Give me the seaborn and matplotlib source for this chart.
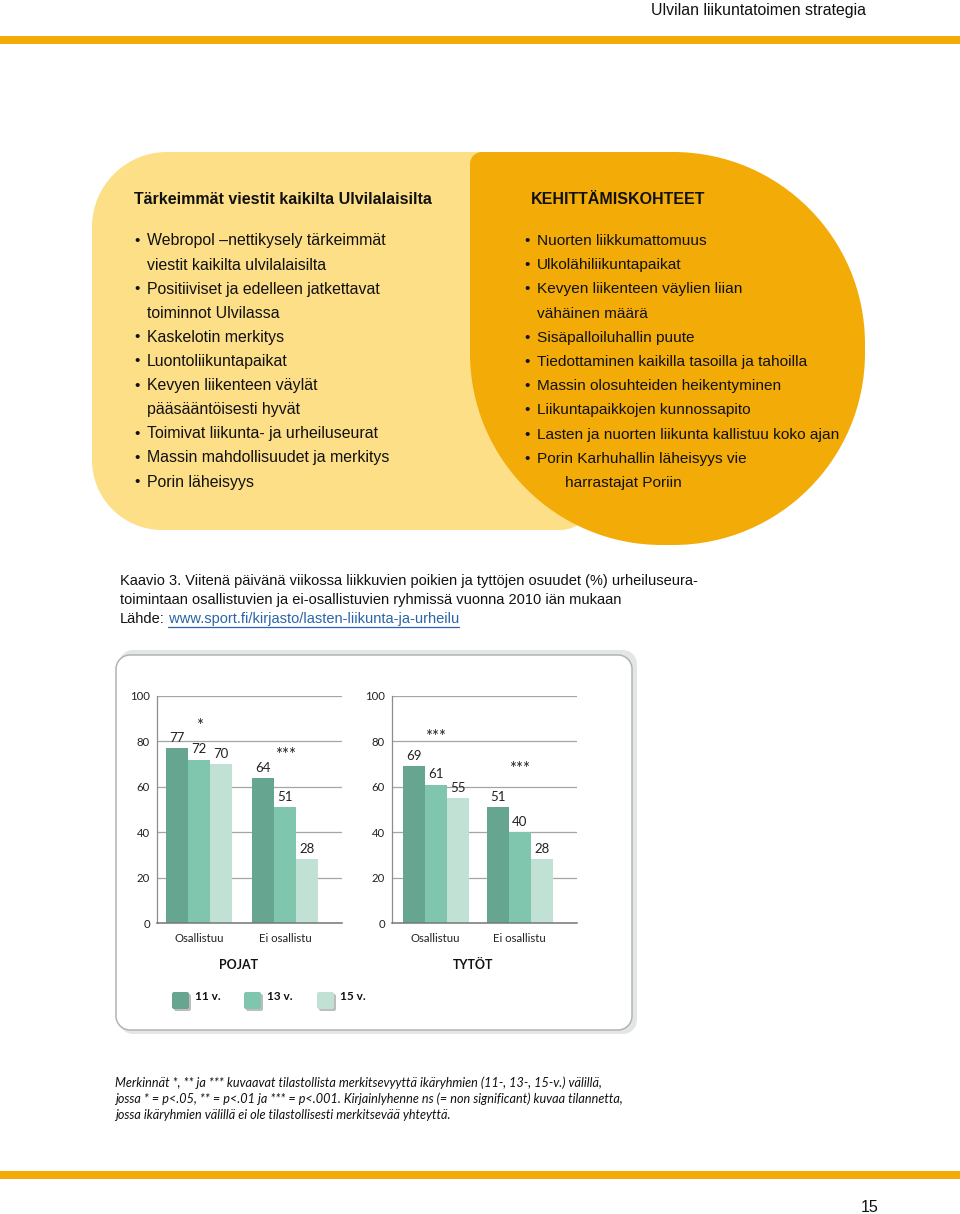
import numpy as np
import pandas as pd
import matplotlib
matplotlib.use("Agg")
import matplotlib.pyplot as plt
from matplotlib.patches import PathPatch, Rectangle
from matplotlib.path import Path
import seaborn as sns

sns.set_theme(style="white")
plt.rcParams["font.family"] = ["Liberation Sans", "DejaVu Sans"]

W, H = 960, 1214

# chart data
GROUPS = ["Osallistuu", "Ei osallistu"]
AGES = ["11 v.", "13 v.", "15 v."]
POJAT = [77, 72, 70, 64, 51, 28]   # Osallistuu 11/13/15, Ei osallistu 11/13/15
TYTOT = [69, 61, 55, 51, 40, 28]
STARS_POJAT = ["*", "***"]
STARS_TYTOT = ["***", "***"]
AGE_COLORS = ["#66A690", "#80C5AD", "#C0E1D4"]

LEFT_TITLE = "Tärkeimmät viestit kaikilta Ulvilalaisilta"
LEFT_ITEMS = [
    (True, "Webropol –nettikysely tärkeimmät"),
    (False, "viestit kaikilta ulvilalaisilta"),
    (True, "Positiiviset ja edelleen jatkettavat"),
    (False, "toiminnot Ulvilassa"),
    (True, "Kaskelotin merkitys"),
    (True, "Luontoliikuntapaikat"),
    (True, "Kevyen liikenteen väylät"),
    (False, "pääsääntöisesti hyvät"),
    (True, "Toimivat liikunta- ja urheiluseurat"),
    (True, "Massin mahdollisuudet ja merkitys"),
    (True, "Porin läheisyys"),
]
RIGHT_TITLE = "KEHITTÄMISKOHTEET"
RIGHT_ITEMS = [
    (True, "Nuorten liikkumattomuus"),
    (True, "Ulkolähiliikuntapaikat"),
    (True, "Kevyen liikenteen väylien liian"),
    (False, "vähäinen määrä"),
    (True, "Sisäpalloiluhallin puute"),
    (True, "Tiedottaminen kaikilla tasoilla ja tahoilla"),
    (True, "Massin olosuhteiden heikentyminen"),
    (True, "Liikuntapaikkojen kunnossapito"),
    (True, "Lasten ja nuorten liikunta kallistuu koko ajan"),
    (True, "Porin Karhuhallin läheisyys vie"),
    (None, "harrastajat Poriin"),
]
CAPTION = [
    "Kaavio 3. Viitenä päivänä viikossa liikkuvien poikien ja tyttöjen osuudet (%) urheiluseura-",
    "toimintaan osallistuvien ja ei-osallistuvien ryhmissä vuonna 2010 iän mukaan",
]
SOURCE_LINK = " www.sport.fi/kirjasto/lasten-liikunta-ja-urheilu"
FOOTNOTE = [
    "Merkinnät *, ** ja *** kuvaavat tilastollista merkitsevyyttä ikäryhmien (11-, 13-, 15-v.) välillä,",
    "jossa * = p<.05, ** = p<.01 ja *** = p<.001. Kirjainlyhenne ns (= non significant) kuvaa tilannetta,",
    "jossa ikäryhmien välillä ei ole tilastollisesti merkitsevää yhteyttä.",
]

LIGHT_YELLOW = "#FDDF88"
ORANGE = "#F2AB07"
CHART_FONT = ["Lato", "DejaVu Sans"]


def rounded_box(x0, y0, x1, y1, radii):
    tl, tr, br, bl = radii
    k = 0.5523
    C = Path.CURVE4
    verts = [(x0 + tl, y0), (x1 - tr, y0),
             (x1 - tr + k * tr, y0), (x1, y0 + tr - k * tr), (x1, y0 + tr),
             (x1, y1 - br),
             (x1, y1 - br + k * br), (x1 - br + k * br, y1), (x1 - br, y1),
             (x0 + bl, y1),
             (x0 + bl - k * bl, y1), (x0, y1 - bl + k * bl), (x0, y1 - bl),
             (x0, y0 + tl),
             (x0, y0 + tl - k * tl), (x0 + tl - k * tl, y0), (x0 + tl, y0),
             (x0 + tl, y0)]
    codes = [Path.MOVETO, Path.LINETO, C, C, C, Path.LINETO, C, C, C,
             Path.LINETO, C, C, C, Path.LINETO, C, C, C, Path.CLOSEPOLY]
    return Path(verts, codes)


fig = plt.figure(figsize=(W / 100, H / 100), dpi=100)
bg = fig.add_axes([0, 0, 1, 1], zorder=0)
bg.set_xlim(0, W)
bg.set_ylim(H, 0)
bg.axis("off")

# header and bands
bg.text(866, 10, "Ulvilan liikuntatoimen strategia", ha="right", va="center",
        fontsize=11.4, color="#111")
bg.add_patch(Rectangle((0, 36), W, 8, color=ORANGE, lw=0))
bg.add_patch(Rectangle((0, 1171), W, 8, color=ORANGE, lw=0))
bg.text(870, 1207, "15", ha="center", va="center", fontsize=11.5, color="#111")

# yellow and orange boxes
bg.add_patch(PathPatch(rounded_box(92, 152, 595, 530, (75, 40, 35, 70)),
                       facecolor=LIGHT_YELLOW, lw=0))
bg.add_patch(PathPatch(rounded_box(470, 152, 865, 545, (12, 192, 192, 192)),
                       facecolor=ORANGE, lw=0))

bg.text(134, 200, LEFT_TITLE, fontsize=11.5, fontweight="bold", va="center", color="#111")
for i, (bullet, txt) in enumerate(LEFT_ITEMS):
    y = 241 + 24.1 * i
    if bullet:
        bg.text(134, y, "•", fontsize=11, va="center", color="#111")
    bg.text(147, y, txt, fontsize=11.4, va="center", color="#111")

bg.text(531, 200, RIGHT_TITLE, fontsize=11.5, fontweight="bold", va="center", color="#111")
for i, (bullet, txt) in enumerate(RIGHT_ITEMS):
    y = 241 + 24.2 * i
    if bullet:
        bg.text(524, y, "•", fontsize=11, va="center", color="#111")
    x = 565 if bullet is None else 537
    bg.text(x, y, txt, fontsize=11.1, va="center", color="#111")

# caption
for i, line in enumerate(CAPTION):
    bg.text(120, 581 + 19 * i, line, fontsize=10.5, va="center", color="#111")
lah = bg.text(120, 619, "Lähde:", fontsize=10.5, va="center", color="#111")
fig.canvas.draw()
r = fig.canvas.get_renderer()
bb = lah.get_window_extent(r)
link = bg.text(bb.x1, 619, SOURCE_LINK, fontsize=10.5, va="center", color="#2A64A8")
fig.canvas.draw()
lb = link.get_window_extent(r)
bg.plot([bb.x1 + 3, lb.x1], [627, 627], color="#2A64A8", lw=0.9)

# chart panel with shadow
bg.add_patch(PathPatch(rounded_box(119, 650, 637, 1034, (14, 14, 14, 14)),
                       facecolor="#E2E7E5", lw=0))
bg.add_patch(PathPatch(rounded_box(116, 655, 632, 1030, (14, 14, 14, 14)),
                       facecolor="white", edgecolor="#B3B3B3", lw=1.1))


def draw_panel(ax, values, stars, star_y, width, xlim):
    df = pd.DataFrame({"ryhmä": np.repeat(GROUPS, 3), "ikä": AGES * 2, "osuus": values})
    sns.barplot(data=df, x="ryhmä", y="osuus", hue="ikä", order=GROUPS, hue_order=AGES,
                palette=AGE_COLORS, saturation=1, width=width, legend=False,
                errorbar=None, linewidth=0, ax=ax)
    for cont in ax.containers:
        ax.bar_label(cont, fmt="%d", padding=3, fontsize=9.5, color="#222", family=CHART_FONT)
    for i, (s, yy) in enumerate(zip(stars, star_y)):
        ax.text(i, yy, s, ha="center", va="center", fontsize=12, color="#222", family=CHART_FONT)
    ax.set_ylim(0, 100)
    ax.set_xlim(*xlim)
    ax.set_yticks(range(0, 101, 20))
    ax.yaxis.grid(True, color="#A5A5A5", lw=0.9)
    ax.set_axisbelow(True)
    ax.set_facecolor("none")
    for s in ["top", "right"]:
        ax.spines[s].set_visible(False)
    ax.spines["left"].set_color("#8C8C8C")
    ax.spines["bottom"].set_color("#777777")
    ax.spines["left"].set_linewidth(0.9)
    ax.spines["bottom"].set_linewidth(1.1)
    ax.tick_params(length=0, labelsize=8.2, pad=5, colors="#222")
    ax.tick_params(axis="x", pad=7)
    for lab in ax.get_xticklabels() + ax.get_yticklabels():
        lab.set_family(CHART_FONT)
    ax.set_xlabel("")
    ax.set_ylabel("")


ax1 = fig.add_axes([157 / W, 1 - 923 / H, 185 / W, 227 / H], zorder=2)
draw_panel(ax1, POJAT, STARS_POJAT, [87, 74], 0.77, (-0.49, 1.66))
ax2 = fig.add_axes([392 / W, 1 - 923 / H, 185 / W, 227 / H], zorder=2)
draw_panel(ax2, TYTOT, STARS_TYTOT, [82, 68], 0.79, (-0.52, 1.68))

bg.text(238, 965, "POJAT", ha="center", va="center", fontsize=9, fontweight="bold",
        family=CHART_FONT, color="#111")
bg.text(473, 965, "TYTÖT", ha="center", va="center", fontsize=9, fontweight="bold",
        family=CHART_FONT, color="#111")

# legend
for x, lab, col in zip([172, 244, 317], AGES, AGE_COLORS):
    bg.add_patch(PathPatch(rounded_box(x + 2, 994, x + 19, 1011, (2, 2, 2, 2)),
                           facecolor="#BDBDBD", lw=0))
    bg.add_patch(PathPatch(rounded_box(x, 992, x + 17, 1009, (2, 2, 2, 2)),
                           facecolor=col, lw=0))
    bg.text(x + 23, 997, lab, va="center", fontsize=8.5, fontweight="bold",
            family=CHART_FONT, color="#111")

# footnote
for i, line in enumerate(FOOTNOTE):
    bg.text(115, 1083 + 16 * i, line, va="center", fontsize=9.1, style="italic",
            family=CHART_FONT, color="#111")

fig.savefig("out.png", dpi=100)
